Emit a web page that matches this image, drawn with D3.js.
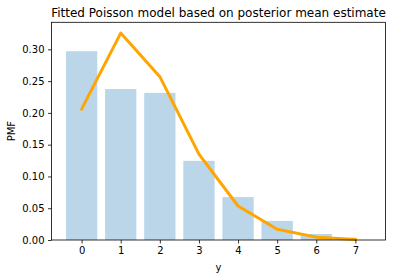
<!DOCTYPE html>
<html>
<head>
<meta charset="utf-8">
<title>Fitted Poisson model</title>
<script src="https://cdn.jsdelivr.net/npm/d3@7"></script>
<style>
body, html {
  margin: 0;
  background: #fff;
}
text {
  font-family: "DejaVu Sans", sans-serif;
  fill: #000;
}
</style>
</head>
<body>
<script>
// observed frequencies (bars) and fitted poisson pmf (line)
var counts = [0, 1, 2, 3, 4, 5, 6, 7];
var observed = [0.297, 0.2375, 0.2315, 0.1245, 0.0675, 0.030, 0.0095, 0.0];
var fitted = [0.206, 0.3255, 0.257, 0.135, 0.0535, 0.017, 0.0045, 0.001];
var yTicks = [0.00, 0.05, 0.10, 0.15, 0.20, 0.25, 0.30];

var W = 393, H = 278;
var m = {top: 22.3, right: 7.5, bottom: 38, left: 51.5};

var svg = d3.select("body").append("svg")
    .attr("width", W)
    .attr("height", H);

var x = d3.scaleLinear()
    .domain([-0.77, 7.77])
    .range([m.left, W - m.right]);

var y = d3.scaleLinear()
    .domain([0, 0.3425])
    .range([H - m.bottom, m.top]);

var barW = x(0.8) - x(0);

// bars
svg.append("g")
  .selectAll("rect")
    .data(counts)
  .enter().append("rect")
    .attr("x", function(d) { return x(d - 0.4); })
    .attr("width", barW)
    .attr("y", function(d, i) { return y(observed[i]); })
    .attr("height", function(d, i) { return y(0) - y(observed[i]); })
    .attr("fill", "#1f77b4")
    .attr("fill-opacity", 0.3);

// fitted line
var line = d3.line()
    .x(function(d) { return x(d); })
    .y(function(d, i) { return y(fitted[i]); });

svg.append("path")
    .datum(counts)
    .attr("d", line)
    .attr("fill", "none")
    .attr("stroke", "#ffa500")
    .attr("stroke-width", 3)
    .attr("stroke-linejoin", "round")
    .attr("stroke-linecap", "square");

// axes
var xAxis = d3.axisBottom(x)
    .tickValues(counts)
    .tickFormat(d3.format("d"))
    .tickSize(3.5)
    .tickPadding(3.5);

var yAxis = d3.axisLeft(y)
    .tickValues(yTicks)
    .tickFormat(d3.format(".2f"))
    .tickSize(3.5)
    .tickPadding(3.5);

var gx = svg.append("g")
    .attr("transform", "translate(0," + (H - m.bottom) + ")")
    .call(xAxis);

var gy = svg.append("g")
    .attr("transform", "translate(" + m.left + ",0)")
    .call(yAxis);

[gx, gy].forEach(function(g) {
  g.select(".domain").remove();
  g.selectAll(".tick line").attr("stroke", "#000").attr("stroke-width", 0.8);
  g.selectAll(".tick text").attr("font-size", "10px").attr("fill", "#000");
});

// frame
svg.append("rect")
    .attr("x", m.left)
    .attr("y", m.top)
    .attr("width", W - m.right - m.left)
    .attr("height", H - m.bottom - m.top)
    .attr("fill", "none")
    .attr("stroke", "#000")
    .attr("stroke-width", 0.8);

// labels
svg.append("text")
    .attr("x", (m.left + W - m.right) / 2)
    .attr("y", 17)
    .attr("text-anchor", "middle")
    .attr("font-size", "12px")
    .text("Fitted Poisson model based on posterior mean estimate");

svg.append("text")
    .attr("x", (m.left + W - m.right) / 2)
    .attr("y", 270.5)
    .attr("text-anchor", "middle")
    .attr("font-size", "10px")
    .text("y");

svg.append("text")
    .attr("transform", "translate(15," + ((m.top + H - m.bottom) / 2) + ") rotate(-90)")
    .attr("text-anchor", "middle")
    .attr("font-size", "10px")
    .text("PMF");
</script>
</body>
</html>
